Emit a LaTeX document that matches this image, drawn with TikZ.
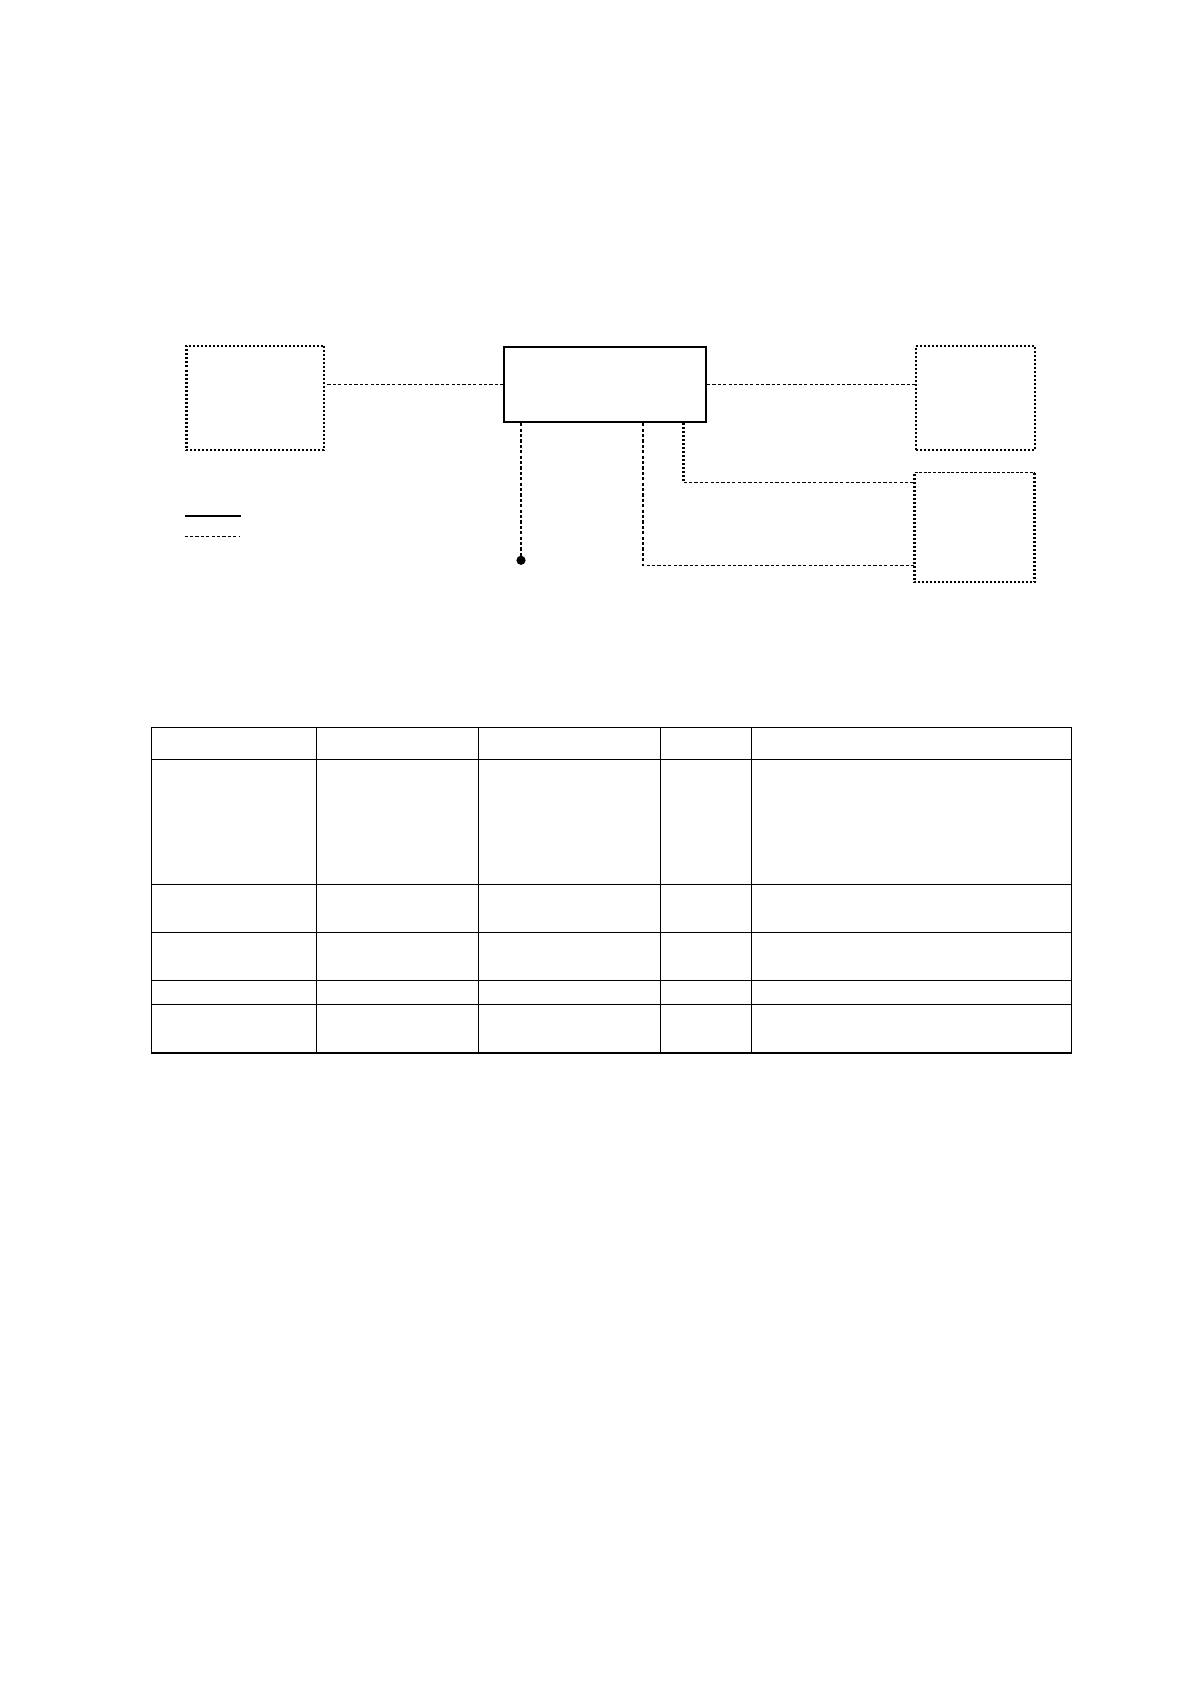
\documentclass[tikz,border=0pt]{standalone}
\begin{document}
\begin{tikzpicture}[x=0.5pt,y=-0.5pt,
  dotbox/.style={draw, line width=1.1pt, dash pattern=on 1pt off 1pt, minimum width=#1, inner sep=0pt},
  plainbox/.style={minimum width=#1, inner sep=0pt},
  solidbox/.style={draw, line width=0.9pt, inner sep=0pt},
  heavydash/.style={line width=0.95pt, dash pattern=on 1.6pt off 1.1pt},
  densedot/.style={line width=1.1pt, dash pattern=on 1pt off 1pt},
  thindash/.style={line width=0.55pt, dash pattern=on 1.6pt off 1.1pt},
  topdash/.style={line width=0.65pt, dash pattern=on 1.5pt off 0.8pt},
  tableline/.style={line width=0.7pt}]
\useasboundingbox (0,0) rectangle (1190,1684);
\fill[white] (0,0) rectangle (1190,1684);

% boxes
\node[dotbox=68.95pt, minimum height=52.2pt] (L) at (255.35,397.9) {};
\node[solidbox, minimum width=100.85pt, minimum height=37.8pt] (C) at (605.15,384.5) {};
\node[dotbox=59.6pt, minimum height=51.9pt] (RU) at (975.5,398.3) {};
\node[plainbox=59.6pt, minimum height=54.4pt] (RL) at (974.5,527.5) {};
\draw[densedot] (RL.north east) -- (RL.south east) -- (RL.south west) -- (RL.north west);
\draw[topdash] (RL.north west) -- (RL.north east);

% connectors
\draw[heavydash] (C.west) -- (L.east |- C.west);
\draw[heavydash] (C.east) -- (RU.west |- C.east);

\coordinate (dot) at (521,560.3);
\draw[heavydash] (C.south -| dot) -- (dot);
\fill (dot) circle (4.6);

\coordinate (b1) at (683.5,482.5);
\draw[densedot] (C.south -| b1) -- (b1);
\draw[thindash] (b1) -- (RL.west |- b1);

\coordinate (b2) at (643,565.5);
\draw[thindash] (C.south -| b2) -- (b2) -- (RL.west |- b2);

% legend
\coordinate (ls1) at (184.6,516);
\coordinate (ls2) at (241,516);
\draw[line width=1.1pt] (ls1) -- (ls2);
\coordinate (ld1) at (184.6,536.7);
\coordinate (ld2) at (239.3,536.7);
\draw[thindash] (ld1) -- (ld2);

% table
\foreach \yy in {727.3,759.3,884.3,932.3,980.3,1004.3,1053}
  \draw[tableline] (151.3,\yy) -- (1071.7,\yy);
\foreach \xx in {151.3,316.3,478.3,660.3,751.3,1071.7}
  \draw[tableline] (\xx,727.3) -- (\xx,1053);
\end{tikzpicture}
\end{document}
